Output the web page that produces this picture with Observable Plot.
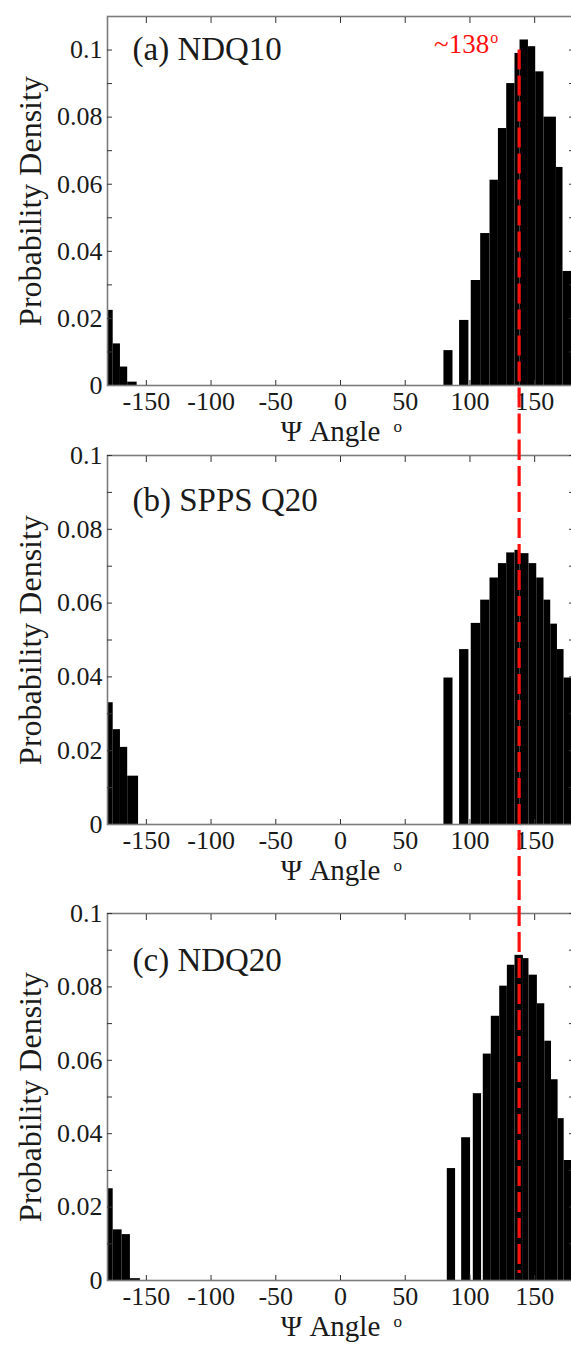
<!DOCTYPE html>
<html><head><meta charset="utf-8">
<script src="https://cdn.jsdelivr.net/npm/d3@7"></script>
<script src="https://cdn.jsdelivr.net/npm/@observablehq/plot@0.6"></script>
<style>
html,body{margin:0;padding:0;background:#fff;overflow:hidden;}
#chart{width:571px;height:1349px;position:relative;overflow:hidden;background:#fff;}
#chart svg{display:block;overflow:visible;}
</style></head><body><div id="chart"></div>
<script>
// ---- data ----
const panelLabels = ["(a) NDQ10", "(b) SPPS Q20", "(c) NDQ20"];
const xLabel = "\u03A8 Angle";
const yLabel = "Probability Density";
const peakAngle = 138;

const xTicks = [-150, -100, -50, 0, 50, 100, 150];
const yLabelTicks = [0, 0.02, 0.04, 0.06, 0.08, 0.1];
const yMinorTicks = [0.01, 0.02, 0.03, 0.04, 0.05, 0.06, 0.07, 0.08, 0.09, 0.1];

// (a) NDQ10: bin lower edge, upper edge (degrees), density
const aLo = [-180, -175.6, -170, -164.4, 79.9, 92, 101, 108.3, 115.5, 122, 128.4, 134.8, 138.7, 145.2, 150.8, 157.2, 166.8, 171.9];
const aHi = [-175.6, -170, -164.4, -157.1, 86.9, 99.2, 108.3, 115.5, 122, 128.4, 134.8, 138.7, 145.2, 150.8, 157.2, 166.8, 171.9, 180];
const aDensity = [0.0224, 0.0124, 0.0055, 0.001, 0.0104, 0.0194, 0.0313, 0.0453, 0.0612, 0.0766, 0.090, 0.099, 0.103, 0.101, 0.0935, 0.080, 0.065, 0.034];

// (b) SPPS Q20
const bLo = [-180, -175.6, -170, -164.4, 79.9, 92, 101, 108.3, 115.5, 122, 128.4, 134.8, 138.7, 145.6, 151.6, 157.2, 162.4, 167.6, 172.7];
const bHi = [-175.6, -170, -164.4, -156, 86.9, 99.2, 108.3, 115.5, 122, 128.4, 134.8, 138.7, 145.6, 151.6, 157.2, 162.4, 167.6, 172.7, 180];
const bDensity = [0.033, 0.0257, 0.0209, 0.0131, 0.0397, 0.0474, 0.0545, 0.0608, 0.0668, 0.0707, 0.0736, 0.0743, 0.0734, 0.0707, 0.0668, 0.0608, 0.0543, 0.0474, 0.0397];

// (c) NDQ20
const cLo = [-180, -175.6, -168.7, -162.3, 82.5, 93.6, 102.6, 110.3, 116.5, 123, 128.9, 134.8, 141.3, 145.6, 152.1, 157.8, 163, 168.1, 172.8];
const cHi = [-175.6, -168.7, -162.3, -154.6, 88.9, 100.5, 109, 116.5, 123, 128.9, 134.8, 141.3, 145.6, 152.1, 157.8, 163, 168.1, 172.8, 180];
const cDensity = [0.025, 0.0138, 0.0125, 0.0005, 0.0305, 0.0389, 0.0509, 0.0617, 0.072, 0.0802, 0.0859, 0.0886, 0.0877, 0.0832, 0.0754, 0.0652, 0.0547, 0.0441, 0.0327];

const yMax = [0.11, 0.1, 0.1];

// ---- drawing ----
const FONT = "Liberation Serif, Times New Roman, serif";
const TXT = "#1a1a1a";
const TICK = "#333";
const RED = "#ff1010";

function panel(cfg) {
  const bars = cfg.lo.map((d, i) => ({x1: d, x2: cfg.hi[i], y: cfg.density[i]}));
  const marks = [
    Plot.rectY(bars, {x1: "x1", x2: "x2", y1: 0, y2: "y", fill: "#000"}),
    Plot.frame({stroke: "#7c7c7c", strokeWidth: 1.6}),
    Plot.axisX(xTicks, {anchor: "bottom", tickSize: 0, tickPadding: 6, tickFormat: d => String(d),
      fontSize: 26, fontFamily: FONT, fill: TXT, label: null}),
    Plot.axisX(xTicks, {anchor: "bottom", tickSize: -5, fill: "none", stroke: TICK, label: null}),
    Plot.axisX(xTicks, {anchor: "top", tickSize: -6, fill: "none", stroke: TICK, label: null}),
    Plot.axisY(yLabelTicks, {anchor: "left", tickSize: 0, tickPadding: 5, tickFormat: d => String(d),
      fontSize: 26, fontFamily: FONT, fill: TXT, label: null}),
    Plot.axisY(yMinorTicks, {anchor: "left", tickSize: -5, fill: "none", stroke: TICK, label: null}),
    Plot.axisY(yMinorTicks, {anchor: "right", tickSize: -5, fill: "none", stroke: TICK, label: null}),
    Plot.ruleX([peakAngle], {x: d => d, y1: cfg.ruleTop, y2: 0, stroke: RED, strokeWidth: 3.2,
      strokeDasharray: "20,6", insetTop: cfg.insetTop, insetBottom: cfg.insetBottom}),
    Plot.text([cfg.label], {frameAnchor: "top-left", textAnchor: "start", lineAnchor: "bottom",
      dx: 25, dy: cfg.labelDy, fontSize: 33, fontFamily: FONT, fill: TXT}),
    Plot.text([yLabel], {frameAnchor: "left", rotate: -90, textAnchor: "middle", lineAnchor: "bottom",
      dx: -67, fontSize: 32, fontFamily: FONT, fill: TXT}),
    Plot.text([xLabel], {frameAnchor: "bottom", textAnchor: "middle", lineAnchor: "bottom",
      dx: -10, dy: 55, fontSize: 29, fontFamily: FONT, fill: TXT}),
    Plot.text(["o"], {frameAnchor: "bottom", textAnchor: "start", lineAnchor: "bottom",
      dx: 53, dy: 46, fontSize: 17, fontFamily: FONT, fill: TXT})
  ];
  if (cfg.annotate) {
    marks.push(
      Plot.text([peakAngle], {x: d => d, text: d => "~" + d, frameAnchor: "top", textAnchor: "end",
        lineAnchor: "bottom", dx: -30, dy: 36, fontSize: 27, fontFamily: FONT, fill: RED}),
      Plot.text([peakAngle], {x: d => d, text: () => "o", frameAnchor: "top", textAnchor: "start",
        lineAnchor: "bottom", dx: -29, dy: 26, fontSize: 16, fontFamily: FONT, fill: RED})
    );
  }
  return Plot.plot({
    width: 571,
    height: cfg.height,
    marginLeft: 107,
    marginRight: -2,
    marginTop: cfg.marginTop,
    marginBottom: cfg.marginBottom,
    style: {fontFamily: FONT, background: "transparent", color: TXT, overflow: "visible"},
    x: {domain: [-180, 180], axis: null, label: null},
    y: {domain: [0, cfg.yMax], axis: null, label: null},
    marks
  });
}

const chart = document.getElementById("chart");
chart.append(panel({lo: aLo, hi: aHi, density: aDensity, yMax: yMax[0], label: panelLabels[0], labelDy: 43,
  height: 440, marginTop: 16, marginBottom: 55, ruleTop: 0.1, insetTop: 0, insetBottom: -55, annotate: true}));
chart.append(panel({lo: bLo, hi: bHi, density: bDensity, yMax: yMax[1], label: panelLabels[1], labelDy: 55,
  height: 440, marginTop: 15, marginBottom: 56, ruleTop: yMax[1], insetTop: -15, insetBottom: -56}));
chart.append(panel({lo: cLo, hi: cHi, density: cDensity, yMax: yMax[2], label: panelLabels[2], labelDy: 57,
  height: 469, marginTop: 33, marginBottom: 69, ruleTop: yMax[2], insetTop: -33, insetBottom: 7}));
</script>
</body></html>
